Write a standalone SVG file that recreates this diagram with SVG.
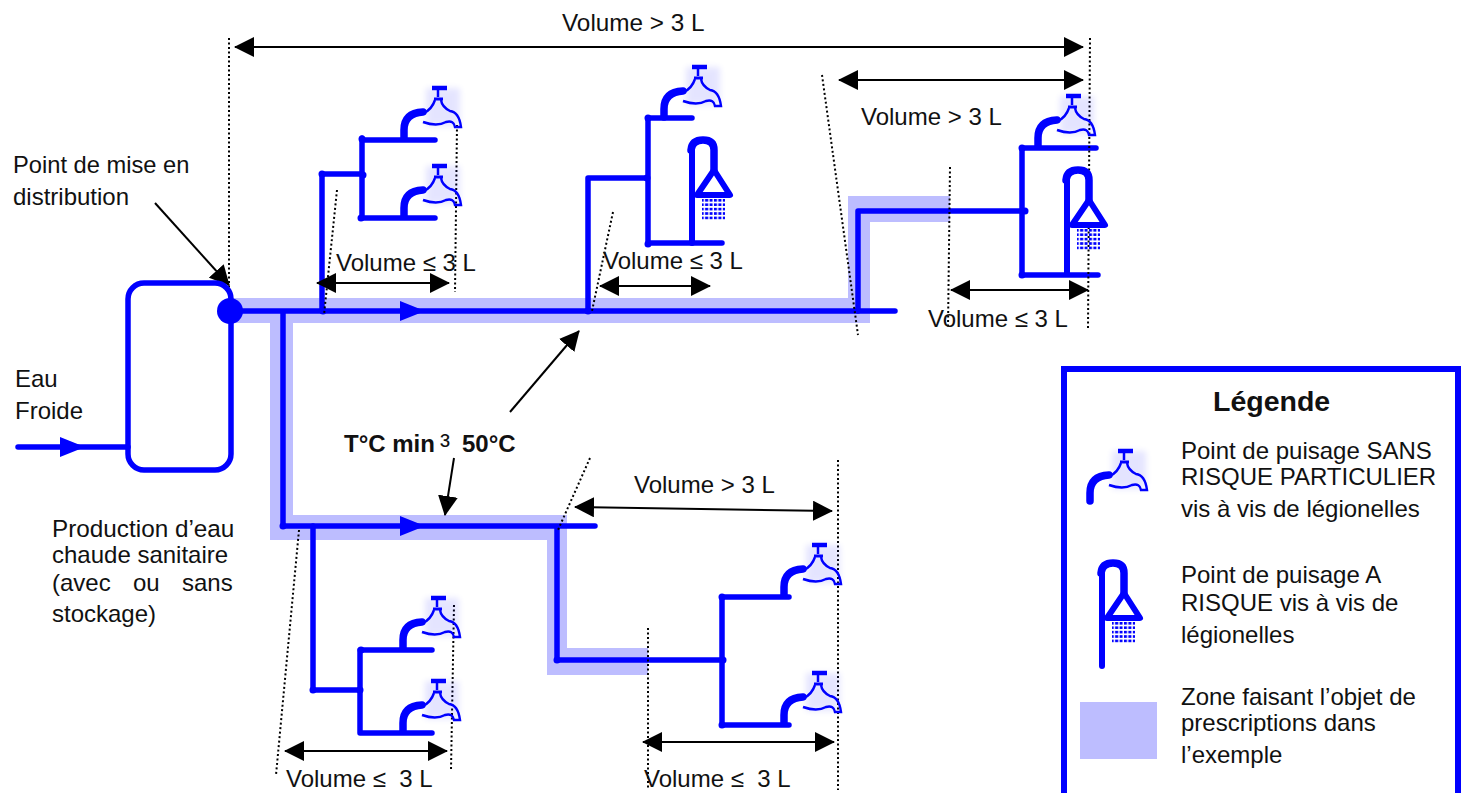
<svg xmlns="http://www.w3.org/2000/svg" width="1476" height="793" viewBox="0 0 1476 793" xmlns:xlink="http://www.w3.org/1999/xlink">
<style>
text{font-family:"Liberation Sans",Arial,sans-serif;font-size:24px;fill:#111}
.b{font-weight:bold}
.p{fill:none;stroke:#0000ff;stroke-width:5.5;stroke-linecap:round;stroke-linejoin:round}
.t{fill:none;stroke:#0000ff;stroke-width:7.5;stroke-linecap:round}
.z{fill:#bdbdff}
.d{fill:none;stroke:#000;stroke-width:2;stroke-dasharray:2 2.5}
.a{stroke:#000;stroke-width:2;fill:none}
.j{fill:#0000ff}
</style>
<defs>
<filter id="soft" x="-20%" y="-20%" width="140%" height="140%"><feGaussianBlur stdDeviation="0.6"/></filter>
<filter id="halo" x="-30%" y="-30%" width="160%" height="160%"><feGaussianBlur stdDeviation="3"/></filter>
<marker id="ah" viewBox="0 0 20 20" refX="19" refY="10" markerUnits="userSpaceOnUse" markerWidth="20" markerHeight="20" orient="auto-start-reverse"><path d="M0,0L20,10L0,20Z" fill="#000"/></marker>
<pattern id="drops" width="4.4" height="4.4" patternUnits="userSpaceOnUse"><rect width="3" height="2.6" fill="#0000ff"/></pattern>
<g id="tap">
<path class="t" d="M0,-2V-10Q0,-27 19,-28"/>
<rect x="22" y="-52" width="34" height="38" fill="#0000ff" opacity=".1" filter="url(#halo)"/>
<g filter="url(#soft)" fill="none" stroke="#0000ff">
<path stroke-width="4.5" d="M28,-52H43"/>
<path stroke-width="2.5" d="M34,-50V-43"/>
<path stroke-width="3" d="M30,-41H39"/>
<path stroke-width="2.4" d="M20,-27Q28,-31 31,-40M37,-40Q38,-33 46,-29Q55,-28 57,-13H51Q50,-20 42,-18Q33,-13 19,-18"/>
</g>
</g>
<g id="shower">
<path class="t" style="stroke-width:6" d="M0,0V-93"/>
<path class="t" d="M-1,-93Q0,-103 11,-103Q22,-103 22,-93V-73"/>
<path d="M22,-73L38,-48H5Z" fill="#fff" stroke="#0000ff" stroke-width="6" stroke-linejoin="round"/>
<rect x="10" y="-44" width="23" height="22" fill="url(#drops)"/>
</g>
</defs>

<g id="zones">
<path class="z" d="M230,298H870V323H293V515H567V648H648V675H547V540H270V323H230Z"/>
<path class="z" d="M848,323V196H950V222H870V323Z"/>
</g>

<g id="connectors">
<path class="p" d="M230,311H895M283,311V526M283,526H595M557,526V660H722M722,597V725M722,597H789M722,725H789"/>
<path class="p" d="M322,311V174H362M362,138V218M362,140H435M362,218H435"/>
<path class="p" d="M588,311V178H648M648,118V243H722M648,118H692"/>
<path class="p" d="M858,311V211H1022M1022,148V275H1098M1022,148H1096"/>
<path class="p" d="M313,526V690H360M360,650V733M360,650H432M360,733H432"/>
<path class="p" d="M18,447H128"/>
<path d="M400,301L425,311L400,321Z M400,516L425,526L400,536Z M60,437L85,447L60,457Z" fill="#0000ff"/>
<g class="j">
<circle cx="362" cy="139" r="3.5"/><circle cx="322" cy="174" r="3.5"/><circle cx="363" cy="175" r="3.5"/><circle cx="361" cy="218" r="3.5"/><circle cx="588" cy="311" r="3.5"/><circle cx="323" cy="311" r="3.5"/>
<circle cx="648" cy="118" r="3.5"/><circle cx="647" cy="178" r="3.5"/><circle cx="648" cy="244" r="3.5"/>
<circle cx="1022" cy="148" r="3.5"/><circle cx="1025" cy="211" r="3.5"/><circle cx="1022" cy="275" r="3.5"/>
<circle cx="283" cy="526" r="3.5"/><circle cx="313" cy="690" r="3.5"/><circle cx="361" cy="650" r="3.5"/><circle cx="360" cy="690" r="3.5"/>
<circle cx="722" cy="597" r="3.5"/><circle cx="723" cy="660" r="3.5"/><circle cx="722" cy="725" r="3.5"/><circle cx="557" cy="660" r="3.5"/>
</g>
<g class="dims">
<path class="d" d="M229,38V311M1090,38L1088,328M457,125L455,292M337,190L324,315M613,212L592,311M822,75L858,335M950,167L948,328M454,605L451,770M299,530L276,775M590,458L558,530M838,460V790M648,628V790"/>
<path class="a" marker-start="url(#ah)" marker-end="url(#ah)" d="M235,47H1083"/>
<path class="a" marker-start="url(#ah)" marker-end="url(#ah)" d="M839,80H1083"/>
<path class="a" marker-start="url(#ah)" marker-end="url(#ah)" d="M317,283H449"/>
<path class="a" marker-start="url(#ah)" marker-end="url(#ah)" d="M600,286H710"/>
<path class="a" marker-start="url(#ah)" marker-end="url(#ah)" d="M951,290H1088"/>
<path class="a" marker-start="url(#ah)" marker-end="url(#ah)" d="M575,507L832,511"/>
<path class="a" marker-start="url(#ah)" marker-end="url(#ah)" d="M285,751H447"/>
<path class="a" marker-start="url(#ah)" marker-end="url(#ah)" d="M643,742H834"/>
<path class="a" marker-end="url(#ah)" d="M155,203L229,285"/>
<path class="a" marker-end="url(#ah)" d="M510,412L579,331"/>
<path class="a" marker-end="url(#ah)" d="M454,458L445,515"/>
</g>
</g>

<g id="tank"><rect x="128" y="283" width="103" height="187" rx="16" class="p"/><circle cx="230" cy="311" r="13" fill="#0000ff"/></g>

<g id="taps">
<use xlink:href="#tap" href="#tap" x="404" y="140"/>
<use xlink:href="#tap" href="#tap" x="404" y="218"/>
<use xlink:href="#tap" href="#tap" x="664" y="119"/>
<use xlink:href="#tap" href="#tap" x="1038" y="148"/>
<use xlink:href="#tap" href="#tap" x="403" y="650"/>
<use xlink:href="#tap" href="#tap" x="403" y="733"/>
<use xlink:href="#tap" href="#tap" x="784" y="597"/>
<use xlink:href="#tap" href="#tap" x="784" y="725"/>
<use xlink:href="#shower" href="#shower" x="692" y="243"/>
<use xlink:href="#shower" href="#shower" x="1067" y="273"/>
</g>

<g id="labels">
<text x="562" y="31" style="font-size:24.3px">Volume &gt; 3 L</text>
<text x="861" y="125">Volume &gt; 3 L</text>
<text x="634" y="493">Volume &gt; 3 L</text>
<text x="336" y="271">Volume ≤ 3 L</text>
<text x="603" y="269">Volume ≤ 3 L</text>
<text x="928" y="327">Volume ≤ 3 L</text>
<text x="286" y="787">Volume ≤ &#160;3 L</text>
<text x="644" y="787">Volume ≤ &#160;3 L</text>
<text x="13" y="173" style="font-size:23.7px">Point de mise en</text>
<text x="13" y="205">distribution</text>
<text x="15" y="387">Eau</text>
<text x="15" y="419">Froide</text>
<text x="52" y="537" style="font-size:24.3px">Production d’eau</text>
<text x="52" y="563">chaude sanitaire</text>
<text x="52" y="591">(avec</text><text x="133" y="591">ou</text><text x="182" y="591">sans</text>
<text x="52" y="622">stockage)</text>
<text x="344" y="452" class="b">T°C min</text><text x="440" y="455" style="font-size:30px">³</text><text x="462" y="452" class="b">50°C</text>
</g>

<g id="legend">
<rect x="1064" y="369" width="394" height="440" fill="none" stroke="#0000ff" stroke-width="6"/>
<text x="1213" y="411" class="b" style="font-size:28.5px">Légende</text>
<use xlink:href="#tap" href="#tap" x="1090" y="503"/>
<use xlink:href="#shower" href="#shower" x="1102" y="666"/>
<rect x="1080" y="702" width="77" height="57" class="z"/>
<text x="1181" y="459">Point de puisage SANS</text>
<text x="1181" y="485">RISQUE PARTICULIER</text>
<text x="1181" y="517">vis à vis de légionelles</text>
<text x="1181" y="583">Point de puisage A</text>
<text x="1181" y="611">RISQUE vis à vis de</text>
<text x="1181" y="643">légionelles</text>
<text x="1181" y="705">Zone faisant l’objet de</text>
<text x="1181" y="731">prescriptions dans</text>
<text x="1181" y="763">l’exemple</text>
</g>
</svg>
